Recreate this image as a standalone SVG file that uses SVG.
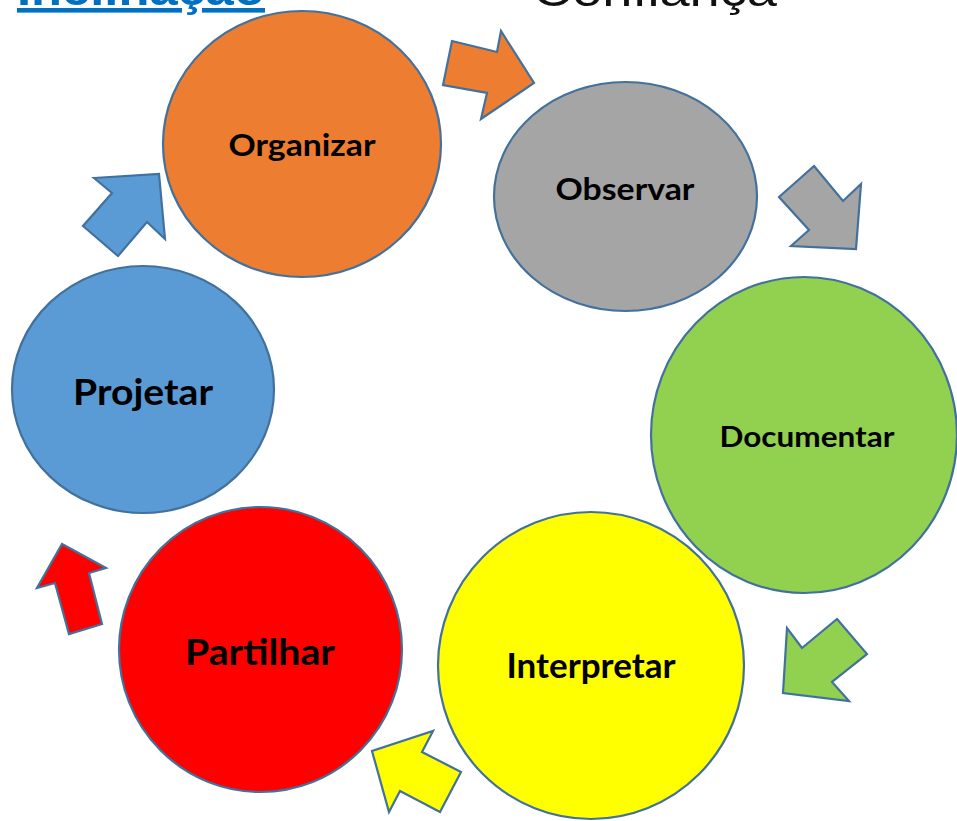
<svg xmlns="http://www.w3.org/2000/svg" width="957" height="821" viewBox="0 0 957 821">
<style>
.node{stroke:#41719C;stroke-width:2.2}
.arr{stroke:#41719C;stroke-width:2.2;stroke-linejoin:miter}
.lbl{font-family:Lato,"Liberation Sans","DejaVu Sans",sans-serif;font-weight:bold;fill:#000;text-anchor:middle}
</style>
<rect width="957" height="821" fill="#fff"/>
<g id="titles">
<text x="17" y="5" font-family="'Liberation Sans',Arial,sans-serif" font-weight="bold" font-size="46" fill="#0070C0" text-decoration="underline" textLength="248" lengthAdjust="spacingAndGlyphs">Inclinação</text>
<text x="533" y="6" font-family="'Liberation Sans',Arial,sans-serif" font-size="44" fill="#111" textLength="244" lengthAdjust="spacingAndGlyphs">Confiança</text>
</g>
<g id="connectors">
<polygon class="arr" fill="#ED7D31" points="452,41 497,52 501,31 534,83 481,119 487,93 443,85"/>
<polygon class="arr" fill="#A5A5A5" points="814,166 843,201 861,184 856,249 791,246 809,230 779,197"/>
<polygon class="arr" fill="#92D050" points="837,619 867,654 832,682 849,701 783,693 787,628 802,648"/>
<polygon class="arr" fill="#FFFF00" points="433,731 422,752 461,772 440,812 400,791 389,812 372,751"/>
<polygon class="arr" fill="#FF0000" points="62,544 106,568 89,573 102,624 69,634 55,583 37,588"/>
<polygon class="arr" fill="#5B9BD5" points="94,178 159,174 165,239 147,222 118,256 83,226 112,193"/>
</g>
<g id="organizar">
<ellipse class="node" fill="#ED7D31" cx="302" cy="144" rx="139" ry="133"/>
<text class="lbl" x="302" y="156" font-size="30" textLength="147" lengthAdjust="spacingAndGlyphs">Organizar</text>
</g>
<g id="observar">
<ellipse class="node" fill="#A5A5A5" cx="625.5" cy="196.5" rx="131.5" ry="114.5"/>
<text class="lbl" x="625" y="200" font-size="30" textLength="139" lengthAdjust="spacingAndGlyphs">Observar</text>
</g>
<g id="documentar">
<ellipse class="node" fill="#92D050" cx="804" cy="435" rx="153" ry="158"/>
<text class="lbl" x="807" y="447" font-size="28" textLength="175" lengthAdjust="spacingAndGlyphs">Documentar</text>
</g>
<g id="interpretar">
<ellipse class="node" fill="#FFFF00" cx="591" cy="665.5" rx="153" ry="153.5"/>
<text class="lbl" x="591" y="678" font-size="34" textLength="169" lengthAdjust="spacingAndGlyphs">Interpretar</text>
</g>
<g id="partilhar">
<ellipse class="node" fill="#FF0000" cx="260.5" cy="649.5" rx="141.5" ry="142.5"/>
<text class="lbl" x="260" y="665" font-size="36" textLength="150" lengthAdjust="spacingAndGlyphs">Partilhar</text>
</g>
<g id="projetar">
<ellipse class="node" fill="#5B9BD5" cx="143" cy="389.5" rx="131" ry="123.5"/>
<text class="lbl" x="143" y="405" font-size="37" textLength="140" lengthAdjust="spacingAndGlyphs">Projetar</text>
</g>
</svg>
